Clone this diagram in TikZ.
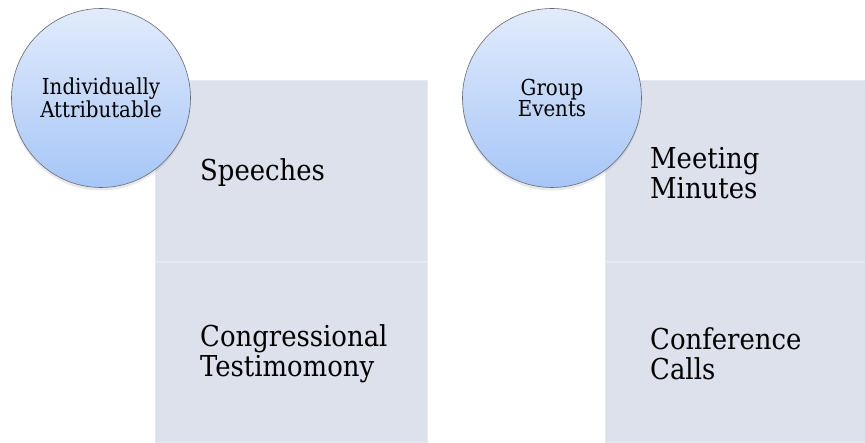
\documentclass[tikz,border=0pt]{standalone}
\usepackage{fontspec}
\setmainfont{DejaVu Serif Condensed}
\usetikzlibrary{shadows}
\definecolor{panel}{RGB}{220,225,236}
\definecolor{panelrule}{RGB}{229,233,242}
\definecolor{bubbletop}{RGB}{226,235,252}
\definecolor{bubblebot}{RGB}{166,198,247}
\definecolor{bubbleline}{RGB}{100,105,115}
\begin{document}
\begin{tikzpicture}[x=1pt,y=-1pt,
  panelbox/.style={rectangle, anchor=north west, fill=panel, draw=panelrule,
    line width=1.2pt, minimum width=272pt, minimum height=181pt, inner sep=0pt},
  bubble/.style={circle, minimum size=179pt, inner sep=0pt,
    top color=bubbletop, bottom color=bubblebot, draw=bubbleline, line width=0.6pt,
    align=center, font=\fontsize{22}{21.5}\selectfont,
    drop shadow={opacity=0.18, shadow xshift=0pt, shadow yshift=-3pt}},
  itemtext/.style={anchor=west, align=left, inner sep=0pt,
    font=\fontsize{28.8}{30}\selectfont}]
\useasboundingbox (0,0) rectangle (865,443);
\fill[white] (0,0) rectangle (865,443);

% left column: individually attributable sources
\node[panelbox] (speechbox) at (155,80) {};
\node[panelbox] (testbox) at (155,261.5) {};
\node[itemtext] (speech) at (200,173) {Speeches};
\node[itemtext] (test) at (200,354) {Congressional\\Testimomony};
\node[bubble] (indiv) at (101,98) {Individually\\Attributable};

% right column: group events
\node[panelbox, minimum width=262pt] (minbox) at (605,80) {};
\node[panelbox, minimum width=262pt] (callbox) at (605,261.5) {};
\node[itemtext] (minutes) at (650,173) {Meeting\\Minutes};
\node[itemtext] (calls) at (650,354) {Conference\\Calls};
\node[bubble] (group) at (552,98) {Group\\Events};
\end{tikzpicture}
\end{document}
